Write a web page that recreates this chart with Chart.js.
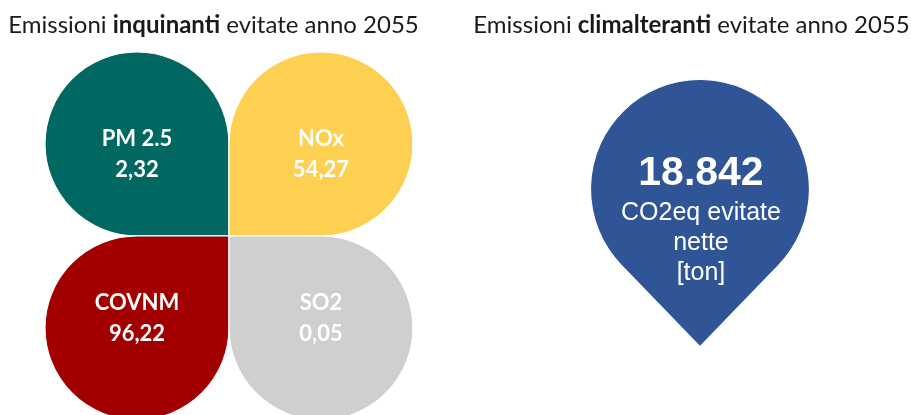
<!DOCTYPE html>
<html>
<head>
<meta charset="utf-8">
<script src="https://cdn.jsdelivr.net/npm/chart.js@4/dist/chart.umd.min.js"></script>
<style>
  html, body { margin: 0; padding: 0; background: #fff; overflow: hidden; }
  .wrap { display: flex; width: 911px; height: 415px; }
  canvas { display: block; }
</style>
</head>
<body>
<div class="wrap">
  <canvas id="pollutantsChart" width="455" height="415"></canvas>
  <canvas id="climateChart" width="456" height="415"></canvas>
</div>
<script>
// titoli (segmenti: testo, grassetto)
const leftTitle = [['Emissioni ', false], ['inquinanti', true], [' evitate anno 2055', false]];
const rightTitle = [['Emissioni ', false], ['climalteranti', true], [' evitate anno 2055', false]];

// inquinanti evitati
const pollutants = ['PM 2.5', 'NOx', 'COVNM', 'SO2'];
const avoided = [2.32, 54.27, 96.22, 0.05];
const petalColors = ['#006761', '#FDD052', '#A20000', '#D0CFD0'];

// CO2 equivalente evitata
const co2Value = [18842];
const co2Lines = ['CO2eq evitate', 'nette', '[ton]'];
const pinColor = '#2F5597';

const fmtDecimal = v => v.toFixed(2).replace('.', ',');
const fmtThousands = v => String(v).replace(/\B(?=(\d{3})+(?!\d))/g, '.');

// goccia: cerchio di raggio r con una punta nella direzione dir, a distanza k*r dal centro
function drawDrop(ctx, cx, cy, r, dir, k, color) {
    const a = Math.acos(1 / k);
    ctx.save();
    ctx.beginPath();
    ctx.moveTo(cx + Math.cos(dir) * r * k, cy + Math.sin(dir) * r * k);
    ctx.lineTo(cx + Math.cos(dir + a) * r, cy + Math.sin(dir + a) * r);
    ctx.arc(cx, cy, r, dir + a, dir - a + Math.PI * 2, false);
    ctx.closePath();
    ctx.fillStyle = color;
    ctx.fill();
    ctx.lineWidth = 1.2;
    ctx.strokeStyle = '#fff';
    ctx.stroke();
    ctx.restore();
}

// titolo con parti in grassetto, centrato su cx
function drawRichTitle(ctx, parts, cx, baseline, size) {
    const font = b => (b ? 'bold ' : '') + size + 'px Lato';
    let total = 0;
    parts.forEach(([t, b]) => { ctx.font = font(b); total += ctx.measureText(t).width; });
    let x = cx - total / 2;
    ctx.save();
    ctx.fillStyle = '#1a1a1a';
    ctx.textBaseline = 'alphabetic';
    ctx.textAlign = 'left';
    parts.forEach(([t, b]) => {
        ctx.font = font(b);
        ctx.fillText(t, x, baseline);
        x += ctx.measureText(t).width;
    });
    ctx.restore();
}

const dropPlugin = {
    id: 'drops',
    afterDatasetsDraw(chart) {
        const { ctx, scales: { x, y } } = chart;
        const ox = x.getPixelForValue(0), oy = y.getPixelForValue(0);
        const unit = x.getPixelForValue(1) - ox;
        chart.data.datasets.forEach((ds, di) => {
            chart.getDatasetMeta(di).data.forEach((pt, i) => {
                const dir = ds.tipAngle !== undefined ? ds.tipAngle : Math.atan2(oy - pt.y, ox - pt.x);
                drawDrop(ctx, pt.x, pt.y, unit * ds.dropRadius, dir, ds.tipFactor, ds.backgroundColor[i]);
            });
        });
    }
};

const petalLabels = {
    id: 'petalLabels',
    afterDatasetsDraw(chart) {
        const { ctx, scales: { y } } = chart;
        const oy = y.getPixelForValue(0);
        const meta = chart.getDatasetMeta(0);
        ctx.save();
        ctx.fillStyle = '#fff';
        ctx.textAlign = 'center';
        ctx.textBaseline = 'alphabetic';
        ctx.font = 'bold 22px Lato';
        meta.data.forEach((pt, i) => {
            const mid = pt.y + Math.sign(oy - pt.y) * 10;
            ctx.fillText(pollutants[i], pt.x, mid - 8);
            ctx.fillText(fmtDecimal(avoided[i]), pt.x, mid + 23);
        });
        ctx.restore();
        drawRichTitle(ctx, leftTitle, 213.5, 33, 24);
    }
};

const pinLabels = {
    id: 'pinLabels',
    afterDatasetsDraw(chart) {
        const { ctx } = chart;
        const pt = chart.getDatasetMeta(0).data[0];
        ctx.save();
        ctx.fillStyle = '#fff';
        ctx.textAlign = 'center';
        ctx.textBaseline = 'alphabetic';
        ctx.font = 'bold 41px "Liberation Sans", Arial, sans-serif';
        ctx.fillText(fmtThousands(co2Value[0]), pt.x + 1, pt.y - 4);
        ctx.font = '25px "Liberation Sans", Arial, sans-serif';
        co2Lines.forEach((t, i) => ctx.fillText(t, pt.x + 1, pt.y + 31 + i * 30));
        ctx.restore();
        drawRichTitle(ctx, rightTitle, 236.5, 33, 24);
    }
};

const hiddenScales = (xmin, xmax, ymin, ymax) => ({
    x: { type: 'linear', min: xmin, max: xmax, display: false },
    y: { type: 'linear', min: ymin, max: ymax, display: false }
});

const baseOptions = {
    responsive: false,
    animation: false,
    events: [],
    layout: { padding: 0 },
    plugins: { legend: { display: false }, tooltip: { enabled: false }, title: { display: false } }
};

new Chart(document.getElementById('pollutantsChart'), {
    type: 'scatter',
    data: {
        datasets: [{
            label: 'Emissioni inquinanti',
            // quattro petali attorno all'origine
            data: pollutants.map((p, i) => ({ x: i % 2 ? 1 : -1, y: i < 2 ? 1 : -1 })),
            backgroundColor: petalColors,
            pointRadius: 0,
            dropRadius: 1,
            tipFactor: Math.SQRT2
        }]
    },
    options: { ...baseOptions, scales: hiddenScales(-2.489, 2.457, -1.946, 2.565) },
    plugins: [dropPlugin, petalLabels]
});

new Chart(document.getElementById('climateChart'), {
    type: 'scatter',
    data: {
        datasets: [{
            label: 'Emissioni climalteranti',
            data: co2Value.map(() => ({ x: 0, y: 0 })),
            backgroundColor: [pinColor],
            pointRadius: 0,
            dropRadius: 1,
            tipFactor: 1.44,
            tipAngle: Math.PI / 2
        }]
    },
    options: { ...baseOptions, scales: hiddenScales(-2.237, 1.927, -2.064, 1.726) },
    plugins: [dropPlugin, pinLabels]
});
</script>
</body>
</html>
